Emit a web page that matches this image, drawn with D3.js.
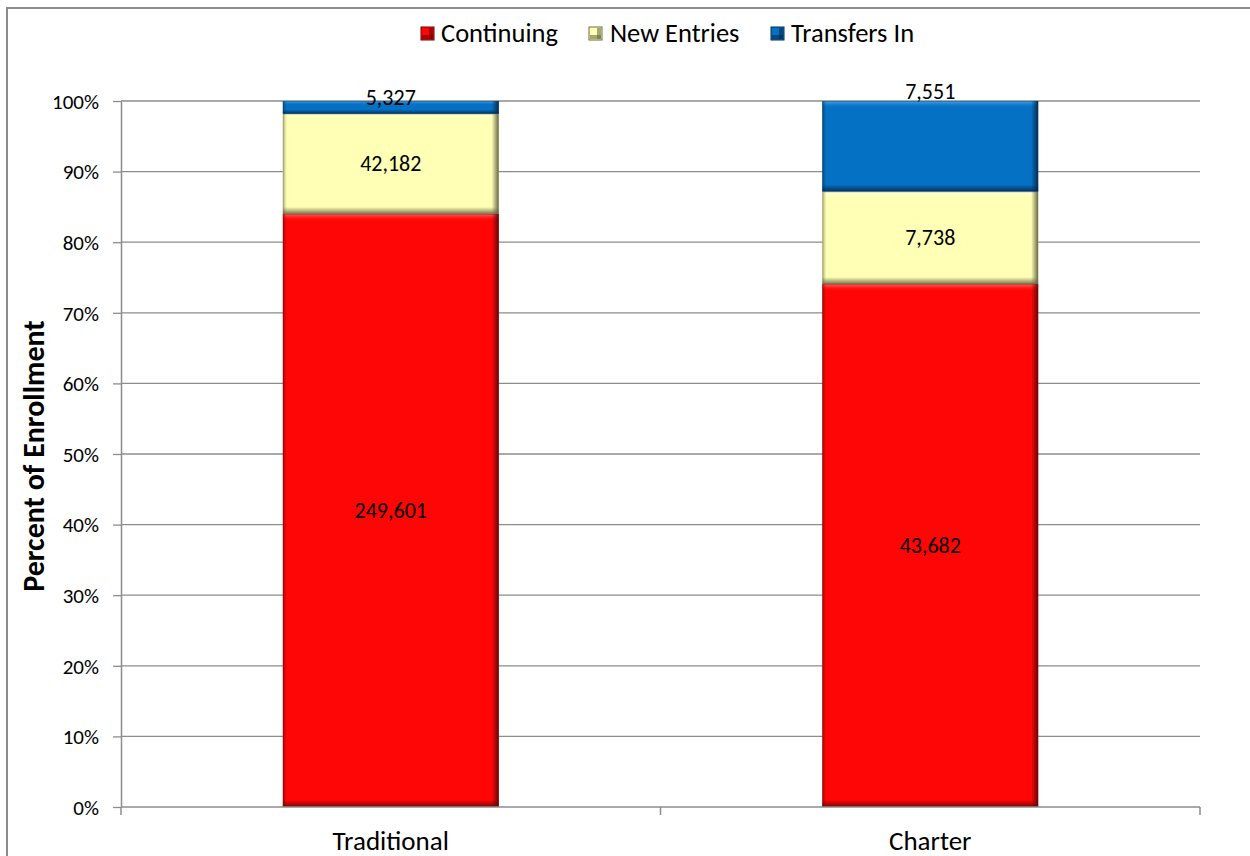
<!DOCTYPE html>
<html><head><meta charset="utf-8">
<script src="https://cdn.jsdelivr.net/npm/d3@7"></script>
<style>
html,body{margin:0;padding:0;background:#fff;}
svg{display:block;font-family:Carlito,Calibri,Lato,"Open Sans",sans-serif;}
</style></head>
<body>
<svg id="chart" width="1250" height="856"></svg>
<script>
const categories = ["Traditional", "Charter"];
const seriesNames = ["Continuing", "New Entries", "Transfers In"];
const continuing = [249601, 43682];
const newEntries = [42182, 7738];
const transfersIn = [5327, 7551];
const yTicks = [0, 0.1, 0.2, 0.3, 0.4, 0.5, 0.6, 0.7, 0.8, 0.9, 1.0];

const colors = ["#FF0606", "#FFFFB5", "#0571C4"];
const darkColors = ["#6a0606", "#6a6a44", "#062c50"];
const lightColors = ["#ff6a6a", "#ffffe0", "#4aa8f0"];

const svg = d3.select("#chart");
const margin = {left: 121, top: 101};
const plotW = 1200 - 121, plotH = 807 - 101;

// outer chart border
svg.append("rect").attr("x", 7).attr("y", 8).attr("width", 1300).attr("height", 900)
  .attr("fill", "none").attr("stroke", "#8c8c8c").attr("stroke-width", 2);

const g = svg.append("g").attr("transform", `translate(${margin.left},${margin.top})`);

const x = d3.scaleBand().domain(categories).range([0, plotW]).paddingInner(0.6).paddingOuter(0.3);
const y = d3.scaleLinear().domain([0, 1]).range([plotH, 0]);

// gridlines
g.append("g").selectAll("line").data(yTicks.filter(t => t > 0)).join("line")
  .attr("x1", 0).attr("x2", plotW).attr("y1", d => y(d)).attr("y2", d => y(d))
  .attr("stroke", "#8c8c8c").attr("stroke-width", 1.3);

// y axis
const yAxis = g.append("g").call(d3.axisLeft(y).tickValues(yTicks).tickFormat(d3.format(".0%")).tickSize(8).tickSizeOuter(0));
yAxis.select(".domain").attr("stroke", "#8c8c8c").attr("stroke-width", 1.5);
yAxis.selectAll(".tick line").attr("stroke", "#8c8c8c").attr("stroke-width", 1.3);
yAxis.selectAll(".tick text").attr("font-size", 21).attr("fill", "#000").attr("font-family", "Carlito,Calibri,Lato,sans-serif").attr("x", -22).attr("dy", "0.35em");

// data stacking
const rows = categories.map((c, i) => ({cat: c, "Continuing": continuing[i], "New Entries": newEntries[i], "Transfers In": transfersIn[i]}));
const stack = d3.stack().keys(seriesNames).offset(d3.stackOffsetExpand);
const stacked = stack(rows);

// defs for bevel gradients
const defs = svg.append("defs");
seriesNames.forEach((s, i) => {
  const gv = defs.append("linearGradient").attr("id", "gv" + i).attr("x1", 0).attr("y1", 0).attr("x2", 0).attr("y2", 1);
  gv.append("stop").attr("offset", 0).attr("stop-color", lightColors[i]).attr("stop-opacity", 1);
  gv.append("stop").attr("offset", 1).attr("stop-color", colors[i]).attr("stop-opacity", 0);
  const gb = defs.append("linearGradient").attr("id", "gb" + i).attr("x1", 0).attr("y1", 0).attr("x2", 0).attr("y2", 1);
  gb.append("stop").attr("offset", 0).attr("stop-color", darkColors[i]).attr("stop-opacity", 0);
  gb.append("stop").attr("offset", 1).attr("stop-color", darkColors[i]).attr("stop-opacity", 0.9);
  const gr = defs.append("linearGradient").attr("id", "gr" + i).attr("x1", 0).attr("y1", 0).attr("x2", 1).attr("y2", 0);
  gr.append("stop").attr("offset", 0).attr("stop-color", darkColors[i]).attr("stop-opacity", 0);
  gr.append("stop").attr("offset", 1).attr("stop-color", darkColors[i]).attr("stop-opacity", 1);
  const gl = defs.append("linearGradient").attr("id", "gl" + i).attr("x1", 0).attr("y1", 0).attr("x2", 1).attr("y2", 0);
  gl.append("stop").attr("offset", 0).attr("stop-color", darkColors[i]).attr("stop-opacity", 0.5);
  gl.append("stop").attr("offset", 1).attr("stop-color", darkColors[i]).attr("stop-opacity", 0);
});

const fmt = d3.format(",");
const bw = x.bandwidth();
stacked.forEach((layer, i) => {
  const lg = g.append("g");
  layer.forEach((d, j) => {
    const x0 = x(categories[j]);
    const yt = y(d[1]), yb = y(d[0]);
    const h = yb - yt;
    const e = Math.min(7, h / 3);
    const sg = lg.append("g");
    sg.append("rect").attr("x", x0).attr("y", yt).attr("width", bw).attr("height", h).attr("fill", colors[i]);
    sg.append("rect").attr("x", x0).attr("y", yt).attr("width", bw).attr("height", e).attr("fill", `url(#gv${i})`);
    sg.append("rect").attr("x", x0).attr("y", yb - e).attr("width", bw).attr("height", e).attr("fill", `url(#gb${i})`);
    sg.append("rect").attr("x", x0 + bw - 7).attr("y", yt).attr("width", 7).attr("height", h).attr("fill", `url(#gr${i})`);
    sg.append("rect").attr("x", x0).attr("y", yt).attr("width", 4).attr("height", h).attr("fill", `url(#gl${i})`);
    sg.append("rect").attr("x", x0 + 0.5).attr("y", yt + 0.5).attr("width", bw - 1).attr("height", Math.max(0, h - 1))
      .attr("fill", "none").attr("stroke", darkColors[i]).attr("stroke-opacity", 0.35).attr("stroke-width", 1);
  });
});

// labels
stacked.forEach((layer, i) => {
  layer.forEach((d, j) => {
    const yt = y(d[1]), yb = y(d[0]);
    const h = yb - yt;
    let cy = (yt + yb) / 2;
    if (i === 2) cy = h < 20 ? cy - 10 : yt - 10;
    g.append("text").attr("x", x(categories[j]) + bw / 2).attr("y", cy).attr("dy", "0.35em")
      .attr("text-anchor", "middle").attr("font-size", 22).attr("fill", "#000")
      .text(fmt(d.data[seriesNames[i]]));
  });
});

// x axis
const xAxisG = g.append("g").attr("transform", `translate(0,${plotH})`);
xAxisG.append("line").attr("x1", 0).attr("x2", plotW).attr("y1", 0).attr("y2", 0).attr("stroke", "#8c8c8c").attr("stroke-width", 1.5);
const bounds = [0, plotW / 2, plotW];
xAxisG.selectAll("line.tk").data(bounds).join("line").attr("class", "tk")
  .attr("x1", d => d).attr("x2", d => d).attr("y1", 0).attr("y2", 8).attr("stroke", "#8c8c8c").attr("stroke-width", 1.5);
xAxisG.selectAll("text").data(categories).join("text")
  .attr("x", d => x(d) + bw / 2).attr("y", 34).attr("dy", "0.35em").attr("text-anchor", "middle")
  .attr("font-size", 27).attr("fill", "#000").text(d => d);

// y title
svg.append("text").attr("transform", "translate(33,456) rotate(-90)").attr("text-anchor", "middle")
  .attr("dy", "0.35em").attr("font-size", 30).attr("font-weight", "bold").text("Percent of Enrollment");

// legend
const legendItems = [{i: 0, sx: 421, tx: 441}, {i: 1, sx: 589, tx: 610}, {i: 2, sx: 771, tx: 791}];
const lgG = svg.append("g");
legendItems.forEach(li => {
  lgG.append("rect").attr("x", li.sx).attr("y", 27).attr("width", 13).attr("height", 13).attr("fill", colors[li.i])
    .attr("stroke", darkColors[li.i]).attr("stroke-width", 1);
  lgG.append("rect").attr("x", li.sx + 8).attr("y", 28).attr("width", 4).attr("height", 11).attr("fill", darkColors[li.i]).attr("opacity", 0.6);
  lgG.append("rect").attr("x", li.sx + 1).attr("y", 35).attr("width", 11).attr("height", 4).attr("fill", darkColors[li.i]).attr("opacity", 0.6);
  lgG.append("text").attr("x", li.tx).attr("y", 33).attr("dy", "0.35em").attr("font-size", 26.5).attr("fill", "#000").text(seriesNames[li.i]);
});
</script>
</body></html>
